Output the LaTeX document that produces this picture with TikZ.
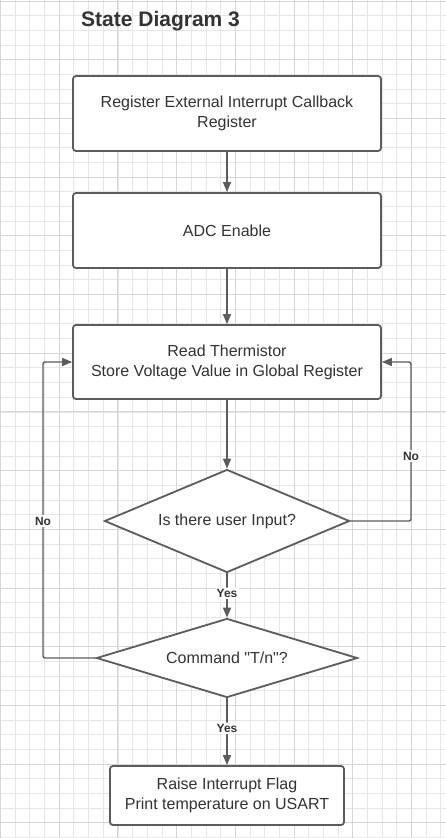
\documentclass[tikz,border=0pt]{standalone}
\usepackage{fontspec}
\setmainfont{Liberation Sans}
\usetikzlibrary{arrows.meta,shapes.geometric}
\definecolor{gridminor}{HTML}{E6E6E6}
\definecolor{gridmajor}{HTML}{D6D6D6}
\definecolor{lineg}{HTML}{5C5C5C}
\definecolor{textg}{HTML}{333333}
\tikzset{
  procbox/.style={draw=lineg, line width=1.8pt, rounded corners=3pt, fill=white,
    text=textg, font=\fontsize{16}{20}\selectfont, align=center, inner sep=0pt},
  flow/.style={draw=lineg, line width=1.4pt, rounded corners=2pt,
    -{Triangle[length=10pt,width=8pt]}},
  lbl/.style={fill=white, text=textg, font=\bfseries\fontsize{12}{14}\selectfont, inner sep=1.5pt}
}
\begin{document}
\begin{tikzpicture}[x=1pt,y=-1pt]
\useasboundingbox (0,0) rectangle (446,838);
\fill[white] (0,0) rectangle (446,838);
% grid
\foreach \i in {0,...,31}{
  \draw[gridminor, line width=0.8pt] ({0.5+14.675*\i},0) -- ({0.5+14.675*\i},838);
}
\foreach \i in {0,...,57}{
  \draw[gridminor, line width=0.8pt] (0,{1+14.675*\i}) -- (446,{1+14.675*\i});
}
\foreach \i in {0,...,7}{
  \draw[gridmajor, line width=1pt] ({0.5+58.7*\i},0) -- ({0.5+58.7*\i},838);
}
\foreach \i in {0,...,14}{
  \draw[gridmajor, line width=1pt] (0,{1+58.7*\i}) -- (446,{1+58.7*\i});
}
% title
\node[anchor=west, text=textg, font=\bfseries\fontsize{21}{24}\selectfont, inner sep=0pt] (title) at (81,21) {State Diagram 3};
% nodes
\node[procbox, minimum width=308pt, minimum height=75pt] (b1) at (227,113.5) {Register External Interrupt Callback\\Register};
\node[procbox, minimum width=308pt, minimum height=75pt] (b2) at (227,230.5) {ADC Enable};
\node[procbox, minimum width=308pt, minimum height=74pt] (b3) at (227,362) {Read Thermistor\\Store Voltage Value in Global Register};
\node[draw=lineg, line width=1.8pt, fill=white, text=textg, font=\fontsize{16}{20}\selectfont, inner sep=0pt,
  shape=diamond, minimum width=245pt, minimum height=103pt, aspect=2.4] (d1) at (227,521) {Is there user Input?};
\node[draw=lineg, line width=1.8pt, fill=white, text=textg, font=\fontsize{16}{20}\selectfont, inner sep=0pt,
  shape=diamond, minimum width=261pt, minimum height=79pt, aspect=3.3] (d2) at (227,658) {Command \textquotedbl T/n\textquotedbl ?};
\node[procbox, minimum width=234pt, minimum height=59pt] (b4) at (227,795.5) {Raise Interrupt Flag\\Print temperature on USART};
% connectors
\draw[flow] (b1) -- (b2);
\draw[flow] (b2) -- (b3);
\draw[flow] (b3) -- (d1);
\draw[flow] (d1.south) -- (d2.north) node[lbl, pos=0.45] (yes1) {Yes};
\draw[flow] (d2.south) -- (b4.north) node[lbl, pos=0.45] (yes2) {Yes};
\coordinate (rr) at (411,521);
\coordinate (ru) at (411,362);
\draw[flow] (d1.east) -- (rr) -- (ru) -- (b3.east);
\node[lbl] (no1) at (411,456) {No};
\coordinate (lr) at (43,658);
\coordinate (lu) at (43,362);
\draw[flow] (d2.west) -- (lr) -- (lu) -- (b3.west);
\node[lbl] (no2) at (43,521) {No};
\end{tikzpicture}
\end{document}
